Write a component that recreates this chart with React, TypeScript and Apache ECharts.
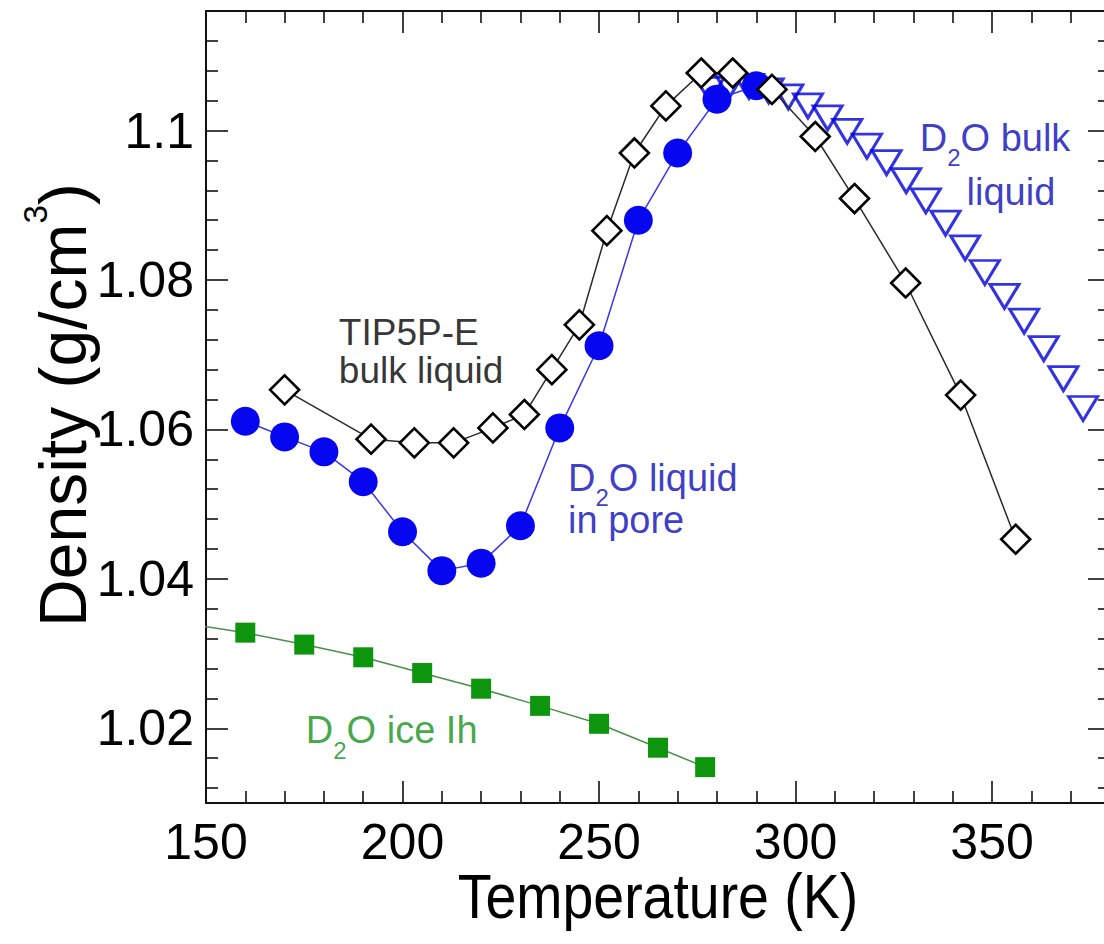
import React, { useEffect, useRef } from "react";
import * as echarts from "echarts";

// ---- axis ranges and ticks ----
const X_MIN = 150;
const X_MAX = 380;
const Y_MIN = 1.01;
const Y_MAX = 1.116;
const xMajorTicks = [150, 200, 250, 300, 350];
const xMinorTicks = [160, 170, 180, 190, 210, 220, 230, 240, 260, 270, 280, 290, 310, 320, 330, 340, 360, 370];
const yMajorTicks = [1.02, 1.04, 1.06, 1.08, 1.1];
const yMinorTicks = [1.012, 1.016, 1.024, 1.028, 1.032, 1.036, 1.044, 1.048, 1.052, 1.056, 1.064, 1.068, 1.072, 1.076, 1.084, 1.088, 1.092, 1.096, 1.104, 1.108, 1.112];

// ---- data ----
// D2O ice Ih
const iceT = [145, 160, 175, 190, 205, 220, 235, 250, 265, 277];
const iceD = [1.034, 1.0328, 1.0312, 1.0295, 1.0274, 1.0253, 1.023, 1.0206, 1.0174, 1.0148];
// D2O liquid in pore
const poreT = [160, 170, 180, 190, 200, 210, 220, 230, 240, 250, 260, 270, 280, 290];
const poreD = [1.0611, 1.059, 1.057, 1.053, 1.0463, 1.0411, 1.0421, 1.0471, 1.0602, 1.0712, 1.088, 1.097, 1.1042, 1.106];
// D2O bulk liquid
const bulkT = [278.15, 283.15, 288.15, 293.15, 298.15, 303.15, 308.15, 313.15, 318.15, 323.15, 328.15, 333.15, 338.15, 343.15, 348.15, 353.15, 358.15, 363.15, 368.15, 373.15];
const bulkD = [1.1055, 1.106, 1.1059, 1.1053, 1.1045, 1.1033, 1.1017, 1.0999, 1.0979, 1.0957, 1.0933, 1.0906, 1.0876, 1.0843, 1.081, 1.0778, 1.0745, 1.0708, 1.0668, 1.0628];
// TIP5P-E bulk liquid
const tipT = [170, 192, 203, 213, 223, 231, 238, 245, 252, 259, 267, 276, 284, 294, 305, 315, 328, 342, 356];
const tipD = [1.0653, 1.0587, 1.0582, 1.0582, 1.0602, 1.062, 1.068, 1.074, 1.0866, 1.097, 1.1033, 1.1077, 1.1077, 1.1055, 1.0992, 1.0909, 1.0796, 1.0646, 1.0453];

// ---- annotation texts (anchored at text top-left, in data units) ----
const annLines = [["TIP5P-E", "bulk liquid"], ["D2O liquid", "in pore"], ["D2O bulk"], ["liquid"], ["D2O ice Ih"]];
const annT = [183.8, 242.1, 331.6, 343.5, 175.4];
const annD = [1.07557, 1.05636, 1.10185, 1.09462, 1.02252];
const annColor = ["k", "b", "b", "b", "g"];

const FONT = '"Liberation Sans", Arial, Helvetica, sans-serif';
const AX = "#111111";
const COL: Record<string, string> = { k: "#000000", b: "#0a0ab8", g: "#14901a" };

const zip = (a: number[], b: number[]) => a.map((v, i) => [v, b[i]]);

function richLine(text: string, c: string) {
  if (text.startsWith("D2O")) {
    return `{n${c}|D}{s${c}|2}{n${c}|O${text.slice(3)}}`;
  }
  return `{n${c}|${text}}`;
}

function xAxis(position: string, ticks: number[], len: number, line: boolean, label: boolean) {
  return {
    type: "value",
    min: X_MIN,
    max: X_MAX,
    position,
    axisLine: { show: line, onZero: false, lineStyle: { color: AX, width: 2 } },
    axisTick: { show: true, inside: true, length: len, customValues: ticks, lineStyle: { color: AX, width: 1.6 } },
    axisLabel: label
      ? { show: true, customValues: ticks, fontSize: 50, fontFamily: FONT, color: "#000", margin: 14 }
      : { show: false },
    splitLine: { show: false },
  };
}

function yAxis(position: string, ticks: number[], len: number, line: boolean, label: boolean) {
  return {
    type: "value",
    min: Y_MIN,
    max: Y_MAX,
    position,
    axisLine: { show: line, onZero: false, lineStyle: { color: AX, width: 2 } },
    axisTick: { show: true, inside: true, length: len, customValues: ticks, lineStyle: { color: AX, width: 1.6 } },
    axisLabel: label
      ? { show: true, customValues: ticks, fontSize: 50, fontFamily: FONT, color: "#000", margin: 12 }
      : { show: false },
    splitLine: { show: false },
  };
}

export default function App() {
  const ref = useRef<HTMLDivElement>(null);

  useEffect(() => {
    if (!ref.current) return;
    const chart = echarts.init(ref.current, null, { renderer: "svg" });

    const lh: Record<string, number> = { k: 38, b: 42, g: 42 };
    const fs: Record<string, number> = { k: 37, b: 38, g: 38 };
    const rich: any = {};
    ["k", "b", "g"].forEach((c) => {
      rich["n" + c] = { color: COL[c], fontSize: fs[c], fontFamily: FONT, lineHeight: lh[c] };
      rich["s" + c] = {
        color: COL[c],
        fontSize: 24,
        fontFamily: FONT,
        lineHeight: 2,
        verticalAlign: "top",
        padding: [29, 0, 0, 0],
      };
    });

    const option: any = {
      animation: false,
      backgroundColor: "#ffffff",
      grid: { left: 206, top: 11, width: 904, height: 792, containLabel: false },
      xAxis: [
        xAxis("bottom", xMajorTicks, 22, true, true),
        xAxis("bottom", xMinorTicks, 12, false, false),
        xAxis("top", xMajorTicks, 22, true, false),
        xAxis("top", xMinorTicks, 12, false, false),
      ],
      yAxis: [
        yAxis("left", yMajorTicks, 22, true, true),
        yAxis("left", yMinorTicks, 12, false, false),
        yAxis("right", yMajorTicks, 22, true, false),
        yAxis("right", yMinorTicks, 12, false, false),
      ],
      graphic: [
        {
          type: "text",
          x: 658,
          y: 896,
          scaleX: 0.88,
          style: {
            text: "Temperature (K)",
            fontSize: 63,
            fontFamily: FONT,
            fill: "#000",
            align: "center",
            verticalAlign: "middle",
          },
        },
        {
          type: "text",
          x: 57,
          y: 405,
          rotation: Math.PI / 2,
          style: {
            text: "{n|Density (g/cm}{s|3}{n|)}",
            align: "center",
            verticalAlign: "middle",
            rich: {
              n: { fontSize: 66, fontFamily: FONT, fill: "#000", verticalAlign: "top", padding: [11, 0, 0, 0] },
              s: { fontSize: 33, fontFamily: FONT, fill: "#000", verticalAlign: "top" },
            },
          },
        },
      ],
      series: [
        {
          type: "line",
          name: "D2O ice Ih",
          data: zip(iceT, iceD),
          symbol: "rect",
          symbolSize: 20,
          clip: true,
          itemStyle: { color: "#0d960d" },
          lineStyle: { color: "#4a8f4a", width: 1.5 },
        },
        {
          type: "line",
          name: "D2O liquid in pore",
          data: zip(poreT, poreD),
          symbol: "circle",
          symbolSize: 29,
          clip: true,
          itemStyle: { color: "#0606f0" },
          lineStyle: { color: "#3636ee", width: 1.5 },
        },
        {
          type: "scatter",
          name: "D2O bulk liquid",
          data: zip(bulkT, bulkD),
          symbol: "triangle",
          symbolRotate: 180,
          symbolSize: [29, 24],
          clip: true,
          itemStyle: { color: "rgba(0,0,0,0)", borderColor: "#0000d8", borderWidth: 3 },
        },
        {
          type: "line",
          name: "TIP5P-E bulk liquid",
          data: zip(tipT, tipD),
          symbol: "diamond",
          symbolSize: [29, 29],
          clip: true,
          itemStyle: { color: "#ffffff", borderColor: "#000000", borderWidth: 2.6 },
          lineStyle: { color: "#2a2a2a", width: 1.5 },
        },
        {
          type: "scatter",
          name: "annotations",
          symbolSize: 0,
          clip: false,
          itemStyle: { color: "rgba(0,0,0,0)" },
          label: {
            show: true,
            position: [0, 0],
            align: "left",
            verticalAlign: "top",
            rich,
          },
          data: annLines.map((lines, i) => ({
            value: [annT[i], annD[i]],
            label: { formatter: lines.map((t) => richLine(t, annColor[i])).join("\n") },
          })),
          z: 10,
        },
      ],
    };

    chart.setOption(option);
    return () => chart.dispose();
  }, []);

  return (
    <div
      style={{
        position: "fixed",
        left: 0,
        top: 0,
        width: 1104,
        height: 944,
        overflow: "hidden",
        background: "#fff",
      }}
    >
      <div ref={ref} style={{ width: 1116, height: 944 }} />
    </div>
  );
}
